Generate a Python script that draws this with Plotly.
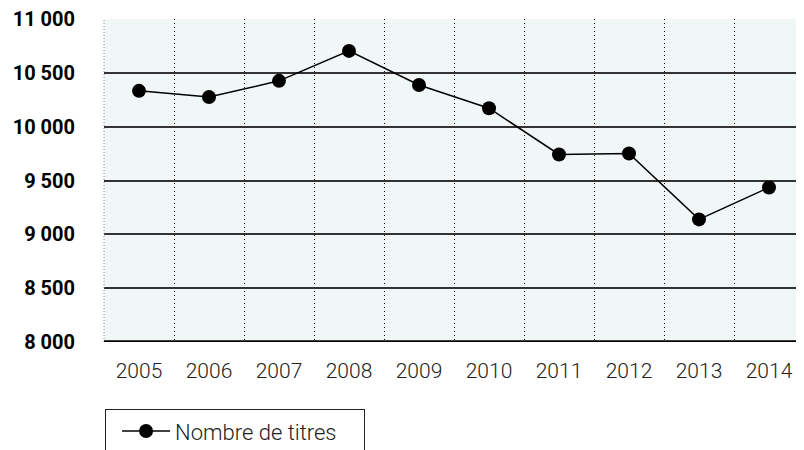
import plotly.graph_objects as go

years = ["2005", "2006", "2007", "2008", "2009", "2010", "2011", "2012", "2013", "2014"]
titres = [10333, 10275, 10426, 10704, 10388, 10172, 9742, 9751, 9139, 9435]
y_tickvals = [8000, 8500, 9000, 9500, 10000, 10500, 11000]
y_ticktext = ["8 000", "8 500", "9 000", "9 500", "10 000", "10 500", "11 000"]
series_name = "Nombre de titres"

# the page has an 8px body margin; the figure is sized to fill the rest
fig = go.Figure()
fig.add_trace(go.Scatter(
    x=years, y=titres, name=series_name, mode="lines+markers",
    line=dict(color="#000000", width=1.5),
    marker=dict(color="#000000", size=14, symbol="circle"),
    showlegend=True,
))

fig.update_layout(
    width=796, height=442,
    margin=dict(l=96, r=0, t=11, b=108, autoexpand=False),
    paper_bgcolor="#ffffff",
    plot_bgcolor="#f1f6f6",
    font=dict(family="Roboto, Arial, sans-serif", color="#222222"),
    showlegend=True,
    legend=dict(
        orientation="h",
        x=0.0015, y=-0.208, xanchor="left", yanchor="top",
        bordercolor="#222222", borderwidth=1, bgcolor="#ffffff",
        font=dict(size=22, color="#222222", weight=300),
        itemwidth=48,
        indentation=11,
        entrywidth=184, entrywidthmode="pixels",
    ),
)

fig.update_xaxes(
    type="category",
    tickson="boundaries",
    showgrid=True, gridcolor="#111111", gridwidth=1, griddash="1px,3px",
    ticks="", ticklabelstandoff=14,
    tickfont=dict(size=21, color="#222222", weight=300),
    showline=False, zeroline=False,
    range=[-0.5, 9.5],
)

fig.update_yaxes(
    range=[8000, 11000.5],
    tickvals=y_tickvals, ticktext=y_ticktext,
    showgrid=True, gridcolor="#333333", gridwidth=1.5,
    ticks="outside", ticklen=24, tickcolor="rgba(0,0,0,0)",
    tickfont=dict(size=20, color="#000000", weight="bold"),
    ticklabeloverflow="allow",
    showline=False, zeroline=False,
)

# left dotted frame line
fig.add_shape(type="line", xref="paper", yref="paper", x0=0, x1=0, y0=0, y1=1,
              line=dict(color="#888888", width=1, dash="1px,2px"))
# bottom baseline on the axis
fig.add_hline(y=8000, line=dict(color="#000000", width=3.5))

fig.write_html("out.html")
